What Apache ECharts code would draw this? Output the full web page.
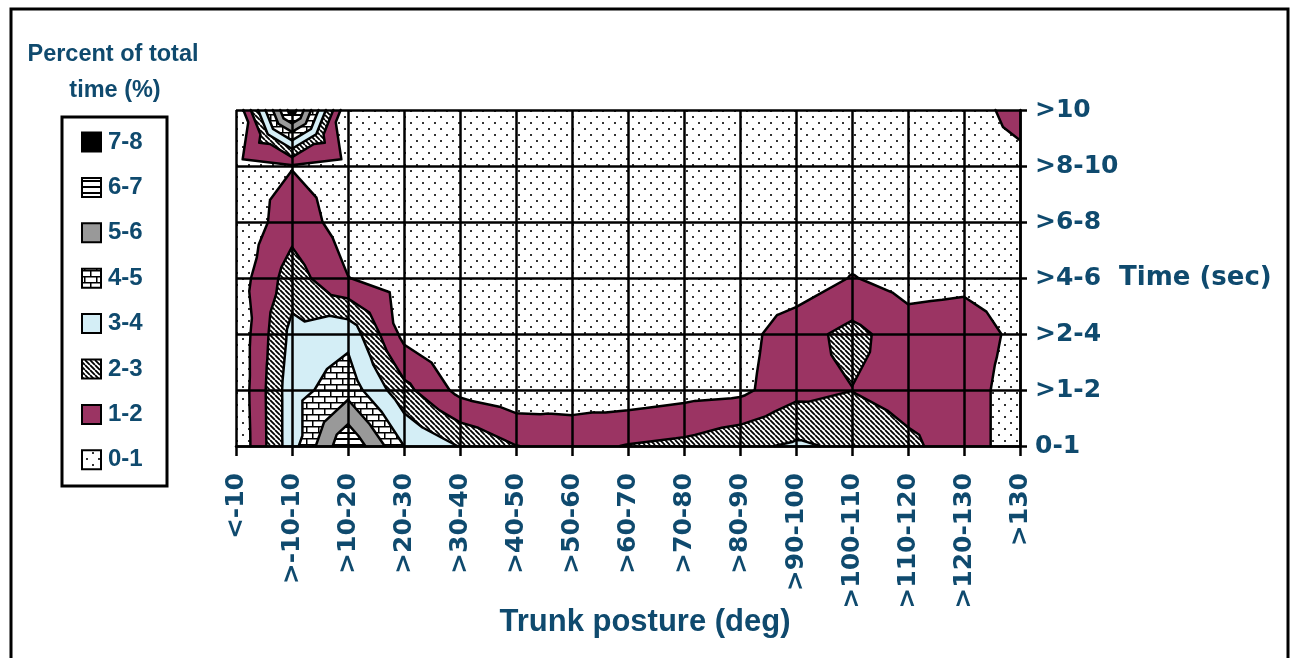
<!DOCTYPE html>
<html lang="en">
<head>
  <meta charset="UTF-8">
  <title>Trunk posture / time contour</title>
  <style>
    html, body { margin: 0; padding: 0; background: #fff; }
    #chart { width: 1291px; height: 658px; }
  </style>
  <script src="https://cdn.jsdelivr.net/npm/echarts@6.0.0/dist/echarts.min.js"></script>
</head>
<body>
  <div id="chart"></div>
<script>
  // x axis: trunk posture classes (deg)
  var postureLabels = ['<-10', '>-10-10', '>10-20', '>20-30', '>30-40', '>40-50', '>50-60',
    '>60-70', '>70-80', '>80-90', '>90-100', '>100-110', '>110-120', '>120-130', '>130'];
  // y axis: time classes (sec), bottom to top
  var timeLabels = ['0-1', '>1-2', '>2-4', '>4-6', '>6-8', '>8-10', '>10'];
  // contour bands, percent of total time
  var bandLabels = ['0-1', '1-2', '2-3', '3-4', '4-5', '5-6', '6-7', '7-8'];
  var bandLevels = [0, 1, 2, 3, 4, 5, 6, 7];

  // percent of total time at each grid node (one array per time class, one value per posture class)
  var t0_1  = [0.1, 3.6, 6.9, 4.0, 2.95, 2.02, 1.7, 2.05, 2.26, 2.76, 3.15, 2.8, 2.2, 1.5, 0.45];
  var t1_2  = [0.19, 3.6, 4.6, 2.3, 0.7, 0.28, 0.43, 0.4, 0.62, 0.75, 1.7, 1.98, 1.6, 1.5, 0.45];
  var t2_4  = [0.2, 3.3, 3.7, 0.7, 0.2, 0.15, 0.15, 0.15, 0.2, 0.6, 1.6, 2.3, 1.45, 1.6, 0.7];
  var t4_6  = [0.45, 2.5, 1.02, 0.5, 0.2, 0.1, 0.1, 0.1, 0.15, 0.3, 0.35, 1.05, 0.6, 0.7, 0.4];
  var t6_8  = [0.2, 1.6, 0.5, 0.2, 0.1, 0.1, 0.1, 0.1, 0.1, 0.1, 0.15, 0.3, 0.2, 0.2, 0.2];
  var t8_10 = [0.6, 0.95, 0.6, 0.1, 0.1, 0.1, 0.1, 0.1, 0.1, 0.1, 0.1, 0.1, 0.1, 0.5, 0.7];
  var t10   = [0, 7.6, 0, 0.1, 0.1, 0.1, 0.1, 0.1, 0.1, 0.1, 0.1, 0.1, 0.1, 0.55, 1.35];
  var pct = [t0_1, t1_2, t2_4, t4_6, t6_8, t8_10, t10];

  var textColor = '#0f4a6e';

  // fill patterns, one per band
  function tile(w, h, draw) {
    var c = document.createElement('canvas');
    c.width = w; c.height = h;
    var ctx = c.getContext('2d');
    ctx.fillStyle = '#fff';
    ctx.fillRect(0, 0, w, h);
    draw(ctx);
    return { image: c, repeat: 'repeat' };
  }
  var fills = [
    tile(12, 12, function (ctx) {   // 0-1 dots
      ctx.fillStyle = '#333';
      ctx.fillRect(2, 2, 2, 2);
      ctx.fillRect(8, 8, 2, 2);
    }),
    '#9b3463',                      // 1-2
    tile(5, 5, function (ctx) {     // 2-3 diagonal hatch
      ctx.strokeStyle = '#000';
      ctx.lineWidth = 1.8;
      ctx.beginPath();
      [-5, 0, 5].forEach(function (k) { ctx.moveTo(k, 0); ctx.lineTo(k + 5, 5); });
      ctx.stroke();
    }),
    '#d4eef6',                      // 3-4
    tile(12, 12, function (ctx) {   // 4-5 brick
      ctx.fillStyle = '#000';
      ctx.fillRect(0, 0, 12, 1.5);
      ctx.fillRect(0, 6, 12, 1.5);
      ctx.fillRect(0, 0, 1.5, 6);
      ctx.fillRect(6, 6, 1.5, 6);
    }),
    '#999999',                      // 5-6
    tile(6, 6, function (ctx) {     // 6-7 horizontal lines
      ctx.fillStyle = '#000';
      ctx.fillRect(0, 0, 6, 2);
    }),
    '#000000'                       // 7-8
  ];

  // grid nodes in pixels, each cell cut into 4 triangles round its centre
  function triangles(api) {
    var nodes = [];
    for (var j = 0; j < pct.length; j++) {
      nodes[j] = [];
      for (var i = 0; i < postureLabels.length; i++) {
        var p = api.coord([i, j]);
        nodes[j][i] = { x: p[0], y: p[1], v: pct[j][i] };
      }
    }
    var tris = [];
    for (var j = 0; j < pct.length - 1; j++) {
      for (var i = 0; i < postureLabels.length - 1; i++) {
        var a = nodes[j][i], b = nodes[j][i + 1], c = nodes[j + 1][i + 1], d = nodes[j + 1][i];
        var m = { x: (a.x + b.x + c.x + d.x) / 4, y: (a.y + b.y + c.y + d.y) / 4, v: (a.v + b.v + c.v + d.v) / 4 };
        tris.push([a, b, m], [b, c, m], [c, d, m], [d, a, m]);
      }
    }
    return tris;
  }
  function lerp(p, q, level) {
    var t = (level - p.v) / (q.v - p.v);
    return { x: p.x + (q.x - p.x) * t, y: p.y + (q.y - p.y) * t, v: level };
  }
  function clip(poly, level) {
    var out = [];
    for (var k = 0; k < poly.length; k++) {
      var p = poly[k], q = poly[(k + 1) % poly.length];
      var pin = p.v >= level, qin = q.v >= level;
      if (pin) out.push(p);
      if (pin !== qin) out.push(lerp(p, q, level));
    }
    return out;
  }
  function pt(p) { return p.x.toFixed(2) + ' ' + p.y.toFixed(2); }

  function renderBand(params, api) {
    var level = bandLevels[params.dataIndex];
    var d = '';
    triangles(api).forEach(function (tri) {
      var poly = clip(tri, level);
      if (poly.length >= 3) d += 'M' + poly.map(pt).join('L') + 'Z';
    });
    return {
      type: 'path',
      shape: { pathData: d },
      style: { fill: fills[params.dataIndex], stroke: null }
    };
  }
  function renderContour(params, api) {
    var level = bandLevels[params.dataIndex];
    var d = '';
    triangles(api).forEach(function (tri) {
      var cross = [];
      for (var k = 0; k < 3; k++) {
        var p = tri[k], q = tri[(k + 1) % 3];
        if ((p.v >= level) !== (q.v >= level)) cross.push(lerp(p, q, level));
      }
      if (cross.length === 2) d += 'M' + pt(cross[0]) + 'L' + pt(cross[1]);
    });
    return {
      type: 'path',
      shape: { pathData: d || 'M0 0' },
      style: { fill: null, stroke: '#000', lineWidth: 2.5, lineCap: 'round', lineJoin: 'round' }
    };
  }

  // legend drawn as graphic: box, title, swatches
  var legendItems = [];
  var legendTop = 142, legendStep = 45.4;
  bandLabels.slice().reverse().forEach(function (name, k) {
    var idx = bandLabels.length - 1 - k;
    var y = legendTop + k * legendStep;
    legendItems.push({
      type: 'rect', shape: { x: 82, y: y - 9.5, width: 19, height: 19 },
      style: { fill: fills[idx], stroke: '#000', lineWidth: 2 }
    });
    legendItems.push({
      type: 'text', x: 108, y: y,
      style: { text: name, fill: textColor, font: 'bold 24px "Liberation Sans", Arial, sans-serif', textVerticalAlign: 'middle' }
    });
  });

  var tickFont = { color: textColor, fontFamily: '"DejaVu Sans", sans-serif', fontWeight: 'bold', fontSize: 25 };
  var blackLine = { color: '#000', width: 2.5 };

  var option = {
    animation: false,
    grid: { left: 236, right: 271, top: 110, bottom: 212, containLabel: false, outerBoundsMode: 'none' },
    xAxis: {
      type: 'category', data: postureLabels, boundaryGap: false, z: 5,
      axisLine: { show: true, lineStyle: blackLine },
      axisTick: { show: true, length: 10, interval: 0, lineStyle: blackLine },
      axisLabel: Object.assign({ rotate: 90, margin: 27, interval: 0 }, tickFont),
      splitLine: { show: true, interval: 0, lineStyle: blackLine }
    },
    yAxis: {
      type: 'category', data: timeLabels, boundaryGap: false, position: 'right', z: 5,
      axisLine: { show: true, lineStyle: blackLine },
      axisTick: { show: true, length: 7, interval: 0, lineStyle: blackLine },
      axisLabel: Object.assign({ margin: 15, interval: 0 }, tickFont),
      splitLine: { show: true, interval: 0, lineStyle: blackLine }
    },
    graphic: [
      { type: 'rect', shape: { x: 11, y: 9, width: 1277, height: 700 }, style: { fill: null, stroke: '#000', lineWidth: 3 } },
      { type: 'text', x: 113, y: 55, style: { text: 'Percent of total', fill: textColor, font: 'bold 23.5px "Liberation Sans", Arial, sans-serif', textAlign: 'center', textVerticalAlign: 'middle' } },
      { type: 'text', x: 115, y: 91, style: { text: 'time (%)', fill: textColor, font: 'bold 23.5px "Liberation Sans", Arial, sans-serif', textAlign: 'center', textVerticalAlign: 'middle' } },
      { type: 'rect', shape: { x: 62, y: 117, width: 105, height: 369 }, style: { fill: '#fff', stroke: '#000', lineWidth: 3 } },
      { type: 'group', children: legendItems },
      { type: 'text', x: 645, y: 622, style: { text: 'Trunk posture (deg)', fill: textColor, font: 'bold 31px "Liberation Sans", Arial, sans-serif', textAlign: 'center', textVerticalAlign: 'middle' } },
      { type: 'text', x: 1119, y: 278, style: { text: 'Time (sec)', fill: textColor, font: 'bold 26px "DejaVu Sans", sans-serif', textAlign: 'left', textVerticalAlign: 'middle' } }
    ],
    series: [
      {
        name: 'bands', type: 'custom', silent: true, z: 2,
        renderItem: renderBand,
        encode: { x: 0, y: 1 },
        data: bandLevels.map(function (lv) { return [0, 0, lv]; })
      },
      {
        name: 'contours', type: 'custom', silent: true, z: 3,
        renderItem: renderContour,
        encode: { x: 0, y: 1 },
        data: bandLevels.map(function (lv) { return [0, 0, lv]; })
      }
    ]
  };

  var myChart = echarts.init(document.getElementById('chart'));
  myChart.setOption(option);
</script>
</body>
</html>
